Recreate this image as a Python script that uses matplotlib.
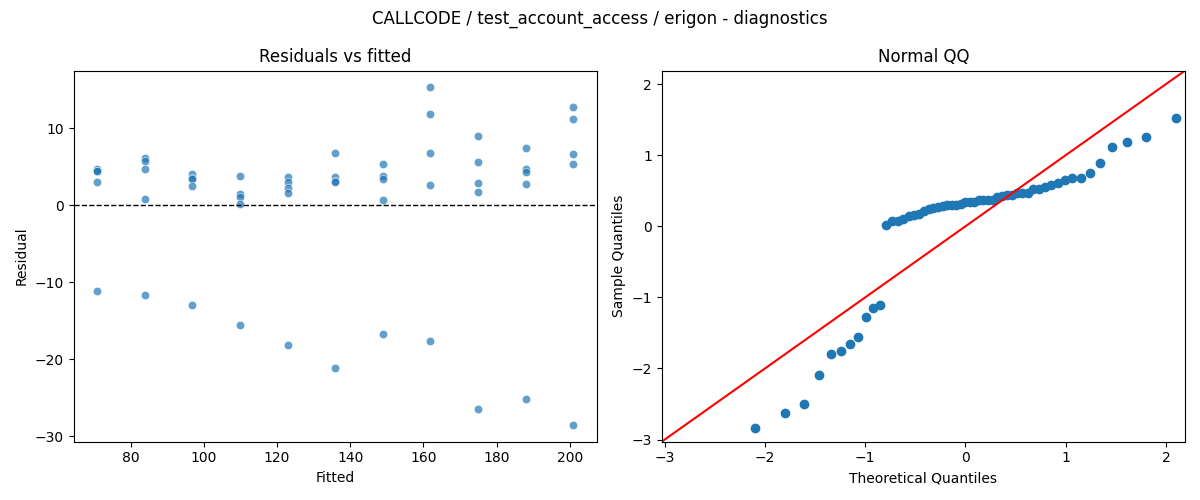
import numpy as np
import matplotlib
matplotlib.use("Agg")
import matplotlib.pyplot as plt
import seaborn as sns
from statistics import NormalDist

fitted_levels = [70.9, 83.9, 96.9, 109.9, 122.9, 135.9, 148.9, 161.9, 174.9, 187.9, 200.9]
resid_groups = [
    [4.7, 4.5, 4.4, 3.0, -11.1],
    [6.2, 5.8, 4.7, 0.8, -11.6],
    [4.1, 3.5, 3.4, 2.5, -12.9],
    [3.8, 1.45, 1.05, 0.16, -15.6],
    [3.7, 3.0, 2.2, 1.6, -18.1],
    [6.8, 3.7, 3.1, 3.0, -21.1],
    [5.3, 3.8, 3.4, 0.7, -16.7],
    [15.3, 11.9, 6.8, 2.6, -17.6],
    [9.0, 5.6, 2.9, 1.7, -26.4],
    [7.5, 4.7, 4.3, 2.75, -25.1],
    [12.7, 11.2, 6.6, 5.3, -28.5],
]

fitted = np.repeat(fitted_levels, 5)
resid = np.concatenate(resid_groups)

fig, axes = plt.subplots(1, 2, figsize=(12, 5), dpi=100)
fig.suptitle("CALLCODE / test_account_access / erigon - diagnostics")

ax = axes[0]
sns.scatterplot(x=fitted, y=resid, alpha=0.7, ax=ax)
ax.axhline(0, color="black", linestyle="--", linewidth=1)
ax.set_title("Residuals vs fitted")
ax.set_xlabel("Fitted")
ax.set_ylabel("Residual")

# normal QQ, 45 degree line, standardized sample
ax = axes[1]
n = len(resid)
sample = np.sort((resid - resid.mean()) / resid.std())
nd = NormalDist()
theo = np.array([nd.inv_cdf(i / (n + 1)) for i in range(1, n + 1)])
ax.plot(theo, sample, "o")
lims = (-3.03, 2.19)
ax.plot(lims, lims, "r-")
ax.set_xlim(lims)
ax.set_ylim(lims)
ax.set_title("Normal QQ")
ax.set_xlabel("Theoretical Quantiles")
ax.set_ylabel("Sample Quantiles")

plt.tight_layout()
plt.savefig("out.png")
